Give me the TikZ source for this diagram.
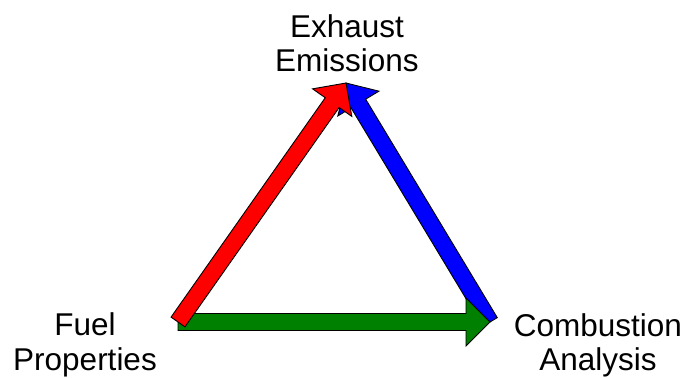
\documentclass[tikz,border=0pt]{standalone}
\usepackage{fontspec}
\setmainfont{Liberation Sans}
\usepackage{xcolor}
\usepackage{tikz}
\usetikzlibrary{calc}

\definecolor{arrowgreen}{RGB}{0,128,0}

% fat block arrow from #1 to #2, filled with #3
\newcommand{\fatarrow}[3]{%
  \coordinate (hb) at ($(#2)!24pt!(#1)$);
  \draw[fatline, fill=#3]
    ($(#1)!8.5pt!90:(#2)$) -- ($(hb)!8.5pt!90:(#2)$) -- ($(hb)!24pt!90:(#2)$)
    -- (#2)
    -- ($(hb)!24pt!-90:(#2)$) -- ($(hb)!8.5pt!-90:(#2)$) -- ($(#1)!8.5pt!-90:(#2)$) -- cycle;
}

\begin{document}
\begin{tikzpicture}[x=1pt, y=1pt, font=\fontsize{31.5}{34.5}\selectfont]
  % ------- styles -------
  \tikzstyle{label}=[align=center, inner sep=0pt, anchor=base]
  \tikzstyle{fatline}=[draw=black, line width=0.9pt, line join=miter]

  \useasboundingbox (0,0) rectangle (681,378);

  % ------- nodes -------
  \node[label] (exhaust) at (347,306) {Exhaust\\Emissions};
  \node[label] (fuel)    at (85,8)    {Fuel\\Properties};
  \node[label] (comb)    at (598,7)   {Combustion\\Analysis};

  % arrow ends
  \coordinate (fuelpt)    at (178,56);
  \coordinate (combpt)    at (490,56);
  \coordinate (exhaustpt) at (346,295);

  % ------- arrows -------
  \fatarrow{combpt}{exhaustpt}{blue}
  \fatarrow{fuelpt}{combpt}{arrowgreen}
  \fatarrow{fuelpt}{exhaustpt}{red}

\end{tikzpicture}
\end{document}
